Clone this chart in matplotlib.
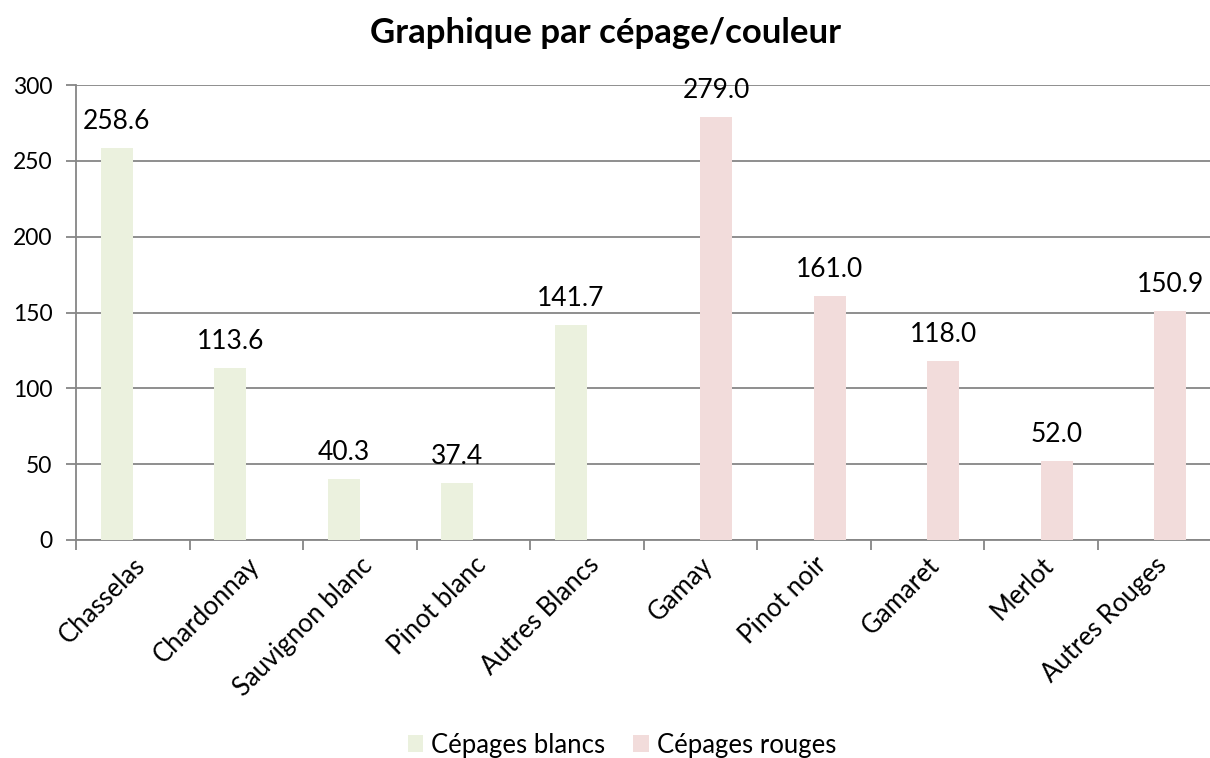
import numpy as np
import matplotlib.pyplot as plt
from matplotlib.ticker import MultipleLocator

plt.rcParams['font.family'] = ['Lato', 'DejaVu Sans']

categories = ["Chasselas", "Chardonnay", "Sauvignon blanc", "Pinot blanc", "Autres Blancs",
              "Gamay", "Pinot noir", "Gamaret", "Merlot", "Autres Rouges"]
blancs = [258.6, 113.6, 40.3, 37.4, 141.7, np.nan, np.nan, np.nan, np.nan, np.nan]
rouges = [np.nan, np.nan, np.nan, np.nan, np.nan, 279.0, 161.0, 118.0, 52.0, 150.9]

green = "#EBF1DE"
pink = "#F2DCDB"
grid_col = "#868686"

fig = plt.figure(figsize=(12.1, 7.58), dpi=100)
ax = fig.add_axes([76 / 1210, 1 - 540 / 758, (1211 - 76) / 1210, (540 - 85) / 758])

x = np.arange(len(categories))
w = 0.28
b1 = ax.bar(x - w / 2, blancs, w, color=green, label="Cépages blancs", zorder=3)
b2 = ax.bar(x + w / 2, rouges, w, color=pink, label="Cépages rouges", zorder=3)

for bars, vals in ((b1, blancs), (b2, rouges)):
    for rect, v in zip(bars, vals):
        if np.isnan(v):
            continue
        ax.annotate(f"{v:.1f}", (rect.get_x() + rect.get_width() / 2, v),
                    xytext=(0, 10), textcoords="offset points",
                    ha="center", va="bottom", fontsize=19, annotation_clip=False)

ax.set_xlim(-0.5, len(categories) - 0.5)
ax.set_ylim(0, 300)
ax.yaxis.set_major_locator(MultipleLocator(50))
ax.grid(axis="y", color=grid_col, linewidth=1.3, zorder=0)

ax.set_xticks(x)
ax.set_xticklabels(categories, rotation=45, ha="right", rotation_mode="anchor", fontsize=18.5)
ax.set_xticks(np.arange(-0.5, len(categories) + 0.5, 1), minor=True)
ax.tick_params(axis="x", which="major", length=0, pad=9)
ax.tick_params(axis="x", which="minor", length=7, color=grid_col, width=1.3)
ax.tick_params(axis="y", length=7, color=grid_col, width=1.3, labelsize=16.5, pad=10)

for s in ("top", "right"):
    ax.spines[s].set_visible(False)
for s in ("left", "bottom"):
    ax.spines[s].set_color(grid_col)
    ax.spines[s].set_linewidth(1.3)

fig.suptitle("Graphique par cépage/couleur", y=0.978, fontsize=25, fontweight="bold")

fig.legend(handles=[b1, b2], loc="center", bbox_to_anchor=(0.514, 0.017), ncol=2,
           frameon=False, fontsize=18.5, handlelength=0.6, handleheight=0.6,
           columnspacing=1.1, handletextpad=0.3)

fig.savefig("out.png", dpi=100)
